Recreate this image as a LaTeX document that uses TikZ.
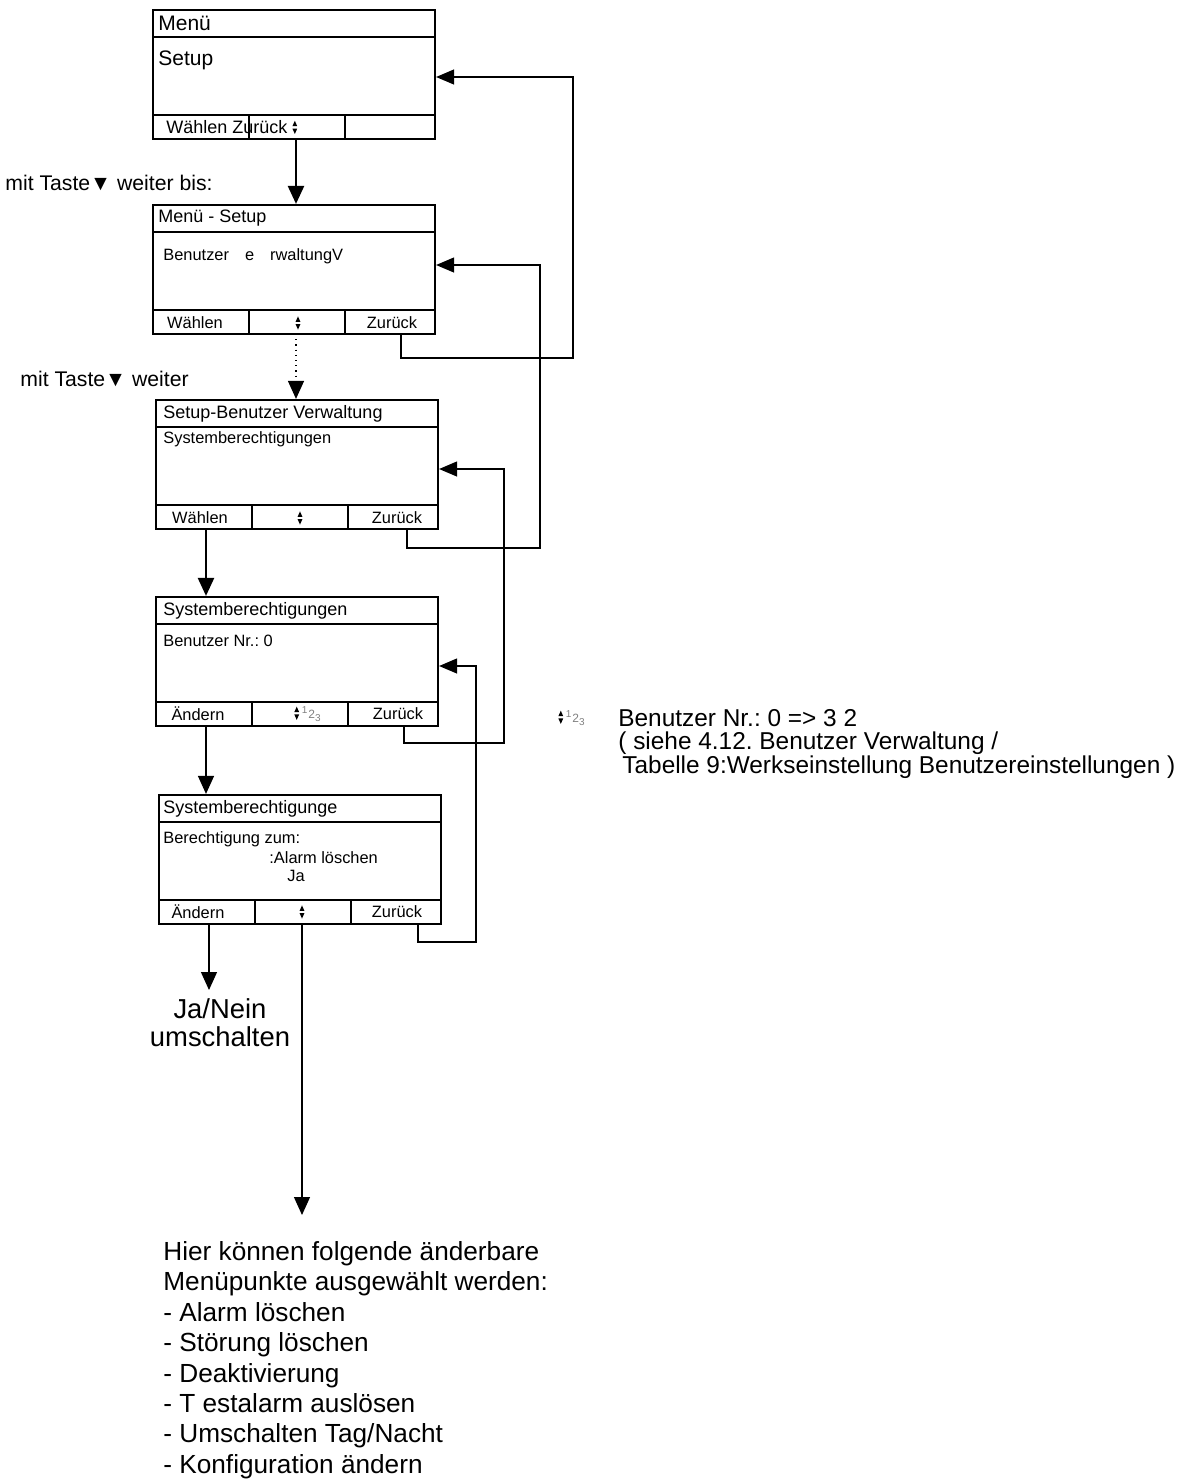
\documentclass[tikz,border=0pt]{standalone}
\usepackage{fontspec}
\setmainfont{Liberation Sans}
\usetikzlibrary{arrows.meta}
\frenchspacing

\newcommand{\updownkey}{\tikz[baseline=-0.6ex,x=1pt,y=1pt]{\fill (-1.2,0.6) -- (1.2,0.6) -- (0,3.3) -- cycle; \fill (-1.2,-0.6) -- (1.2,-0.6) -- (0,-3.3) -- cycle;}}
\newcommand{\subdigits}{{\color{gray}\fontsize{6}{6}\selectfont\textsuperscript{1}2\textsubscript{3}}}

% one display: frame, title line, key line and key cells
\newcommand{\drawscreen}[3]{%
  \begin{scope}[shift={(#2,#3)}]
    \node[screen] (#1) at (141,64.5) {};
    \draw[divider] (0,27) -- (282,27);
    \draw[divider] (0,105) -- (282,105);
    \draw[divider] (96,105) -- (96,129);
    \draw[divider] (192,105) -- (192,129);
    \coordinate (#1-l) at (50,129);
    \coordinate (#1-c) at (143,129);
    \coordinate (#1-r) at (248,129);
  \end{scope}}

\begin{document}
\begin{tikzpicture}
        [
            x=0.5pt, y=-0.5pt,
            screen/.style={draw, line width=1.1pt, minimum width=141pt, minimum height=64.5pt, inner sep=0pt},
            divider/.style={line width=0.7pt},
            head/.style={anchor=west, inner sep=0pt, font=\fontsize{9}{10}\selectfont},
            body/.style={anchor=west, inner sep=0pt, font=\fontsize{8.2}{9}\selectfont},
            key/.style={inner sep=0pt, font=\fontsize{8.2}{9}\selectfont},
            hint/.style={anchor=west, inner sep=0pt, font=\fontsize{10.6}{12}\selectfont},
            fwd/.style={-{Triangle[length=9pt,width=8pt]}, line width=0.6pt},
            back/.style={-{Triangle[length=9pt,width=7.5pt]}, line width=0.6pt}
        ]
        \useasboundingbox (0,0) rectangle (1179,1479);
        % Menu
        \drawscreen{m1}{153}{10}
        \node[head, font=\fontsize{10.5}{12}\selectfont] (m1title) at (158,23) {Menü};
        \node[head, font=\fontsize{10.5}{12}\selectfont] (m1body) at (158,60) {Setup};
        \node[key, anchor=west, font=\fontsize{9}{10}\selectfont] (m1keys) at (166,127) {Wählen Zurück \updownkey};
        \node[hint] (hint1) at (5,183) {mit Taste▼ weiter bis:};
        % Menu - Setup
        \drawscreen{m2}{153}{205}
        \node[head] (m2title) at (158,218) {Menü - Setup};
        \node[body] (m2body) at (163,256) {Benutzer\hspace{8pt}e\hspace{8pt}rwaltungV};
        \node[key] (m2k1) at (195,323) {Wählen};
        \node[key] (m2k2) at (298,323) {\updownkey};
        \node[key] (m2k3) at (392,323) {Zurück};
        \node[hint] (hint2) at (20,379) {mit Taste▼ weiter};
        % Setup - Benutzer Verwaltung
        \drawscreen{m3}{156}{400}
        \node[head] (m3title) at (163,414) {Setup-Benutzer Verwaltung};
        \node[body] (m3body) at (163,439) {Systemberechtigungen};
        \node[key] (m3k1) at (200,518) {Wählen};
        \node[key] (m3k2) at (300,518) {\updownkey};
        \node[key] (m3k3) at (397,518) {Zurück};
        % Systemberechtigungen
        \drawscreen{m4}{156}{597}
        \node[head] (m4title) at (163,611) {Systemberechtigungen};
        \node[body] (m4body) at (163,641) {Benutzer Nr.: 0};
        \node[key] (m4k1) at (198,714) {Ändern};
        \node[key] (m4k2) at (308,714) {\updownkey\,\subdigits};
        \node[key] (m4k3) at (398,714) {Zurück};
        % Berechtigung
        \drawscreen{m5}{159}{795}
        \node[head] (m5title) at (163,809) {Systemberechtigunge};
        \node[body] (m5body1) at (163,839) {Berechtigung zum:};
        \node[body] (m5body2) at (269,858) {:Alarm löschen};
        \node[body] (m5body3) at (287,876) {Ja};
        \node[key] (m5k1) at (198,912) {Ändern};
        \node[key] (m5k2) at (302,912) {\updownkey};
        \node[key] (m5k3) at (397,912) {Zurück};
        % results
        \node[anchor=north, align=center, inner xsep=0pt, inner ysep=4pt, font=\fontsize{13.7}{14}\selectfont] (toggle) at (220,990) {Ja/Nein\\umschalten};
        \node[anchor=north west, align=left, inner xsep=0pt, inner ysep=13pt, font=\fontsize{13.1}{15.2}\selectfont] (items) at (163,1215) {Hier können folgende änderbare\\Menüpunkte ausgewählt werden:\\- Alarm löschen\\- Störung löschen\\- Deaktivierung\\- T estalarm auslösen\\- Umschalten Tag/Nacht\\- Konfiguration ändern};
        % legend
        \node[key, anchor=west] (legicon) at (558,718) {\updownkey\,\subdigits};
        \node[anchor=north west, align=left, inner sep=0pt, font=\fontsize{12.2}{11.75}\selectfont] (legend) at (618,709) {Benutzer Nr.: 0 => 3 2\\( siehe 4.12. Benutzer Verwaltung /\\\hspace*{2pt}Tabelle 9:Werkseinstellung Benutzereinstellungen )};
        % forward
        \draw[fwd, line width=1.2pt] (m1-c) -- (m1-c |- m2.north);
        \draw[fwd, dotted] (m2-c) -- (m2-c |- m3.north);
        \draw[fwd, line width=1.2pt] (m3-l) -- (m3-l |- m4.north);
        \draw[fwd] (m4-l) -- (m4-l |- m5.north);
        \draw[fwd] (m5-l) -- (m5-l |- toggle.north);
        \draw[fwd] (m5-c) -- (m5-c |- items.north);
        % back
        \coordinate (r1) at (573,77);
        \coordinate (r2) at (540,265);
        \coordinate (r3) at (504,469);
        \coordinate (r4) at (476,666);
        \draw[back] (m2-r) -- ++(0,24) -| (r1) -- (r1 -| m1.east);
        \draw[back] ([xshift=1.5pt]m3-r) -- ++(0,19) -| (r2) -- (r2 -| m2.east);
        \draw[back] (m4-r) -- ++(0,17) -| (r3) -- (r3 -| m3.east);
        \draw[back] ([xshift=5.5pt]m5-r) -- ++(0,18) -| (r4) -- (r4 -| m4.east);
    \end{tikzpicture}
\end{document}
